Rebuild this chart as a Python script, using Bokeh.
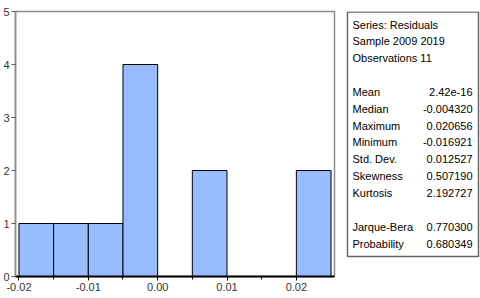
from bokeh.plotting import figure
from bokeh.layouts import row
from bokeh.models import FixedTicker
from bokeh.core.properties import value
from bokeh.embed import file_html
from bokeh.resources import INLINE

# Histogram data
bin_edges = [-0.020, -0.015, -0.010, -0.005, 0.000, 0.005, 0.010, 0.015, 0.020, 0.025]
counts = [1, 1, 1, 4, 0, 2, 0, 0, 2]
x_ticks = [-0.02, -0.01, 0.00, 0.01, 0.02]
x_tick_labels = ["-0.02", "-0.01", "0.00", "0.01", "0.02"]
x_minor_ticks = [-0.015, -0.005, 0.005, 0.015]
y_ticks = [0, 1, 2, 3, 4, 5]

# Stats
header_lines = ["Series: Residuals", "Sample 2009 2019", "Observations 11"]
stat_names = ["Mean", "Median", "Maximum", "Minimum", "Std. Dev.", "Skewness", "Kurtosis"]
stat_values = ["2.42e-16", "-0.004320", "0.020656", "-0.016921", "0.012527", "0.507190", "2.192727"]
test_names = ["Jarque-Bera", "Probability"]
test_values = ["0.770300", "0.680349"]

FONT = "Liberation Sans"
W, H = 480, 298
TOP, BOTTOM = 11, 22          # border sizes -> frame spans y 11..276
P_W = 340

p = figure(width=P_W, height=H, x_range=(-0.0205, 0.0255), y_range=(0, 5),
           output_backend="svg", toolbar_location=None,
           min_border_left=15, min_border_top=TOP, min_border_right=6,
           min_border_bottom=BOTTOM)
p.quad(left=bin_edges[:-1], right=bin_edges[1:], bottom=0, top=counts,
       fill_color="#99bbff", line_color="black", line_width=1)
p.grid.visible = False
p.outline_line_color = "#8c8c8c"
p.outline_line_width = 1.5

p.xaxis.ticker = FixedTicker(ticks=x_ticks, minor_ticks=x_minor_ticks)
p.xaxis.major_label_overrides = {t: l for t, l in zip(x_ticks, x_tick_labels)}
p.xaxis.axis_line_color = "black"
p.xaxis.axis_line_width = 2
p.xaxis.major_tick_line_color = "black"
p.xaxis.major_tick_in = 0
p.xaxis.major_tick_out = 4
p.xaxis.minor_tick_line_color = "black"
p.xaxis.minor_tick_in = 0
p.xaxis.minor_tick_out = 3
p.xaxis.major_label_standoff = 2

p.yaxis.ticker = FixedTicker(ticks=y_ticks)
p.yaxis.axis_line_color = "#8c8c8c"
p.yaxis.axis_line_width = 1.5
p.yaxis.major_tick_line_color = "#555555"
p.yaxis.major_tick_in = 0
p.yaxis.major_tick_out = 4
p.yaxis.minor_tick_line_color = None
p.yaxis.major_label_standoff = 2

for ax in (p.xaxis, p.yaxis):
    ax.major_label_text_font = FONT
    ax.major_label_text_font_size = "11px"
    ax.major_label_text_color = "#333333"

# Stats panel: frame shares the vertical extent of the histogram frame,
# so its y range is expressed in pixels from the top of the figure.
S_W = W - P_W
s = figure(width=S_W, height=H, x_range=(0, S_W), y_range=(H - BOTTOM, TOP),
           output_backend="svg", toolbar_location=None,
           min_border_left=0, min_border_right=0,
           min_border_top=TOP, min_border_bottom=BOTTOM,
           outline_line_color=None)
s.axis.visible = False
s.grid.visible = False
s.quad(left=[7], right=[138], top=[11.5], bottom=[256],
       fill_color="white", line_color="#666666", line_width=1.5)

steps = [0, 1, 2, 4, 5, 6, 7, 8, 9, 10, 12, 13]
rows_y = [24 + 16.85 * k for k in steps]
labels = header_lines + stat_names + test_names
vals = [""] * len(header_lines) + stat_values + test_values
s.text(x=[12] * len(labels), y=rows_y, text=labels,
       text_font=value(FONT), text_font_size="11px", text_baseline="middle",
       text_align="left", text_color="black")
s.text(x=[132] * len(vals), y=rows_y, text=vals,
       text_font=value(FONT), text_font_size="11px", text_baseline="middle",
       text_align="right", text_color="black")

layout = row(p, s)
open("out.html", "w").write(file_html(layout, INLINE))
